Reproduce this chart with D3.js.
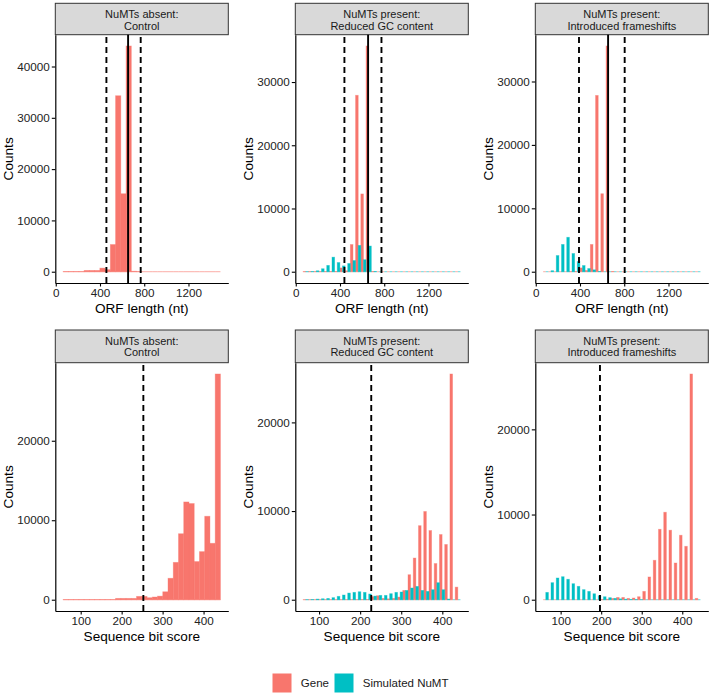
<!DOCTYPE html>
<html><head><meta charset="utf-8">
<script src="https://cdn.jsdelivr.net/npm/d3@7"></script>
<style>body{margin:0;background:#fff}svg{display:block;font-family:"Liberation Sans",Arial,Helvetica,sans-serif}</style>
</head><body><svg id="c" width="712" height="694"></svg>
<script>
// ---------------- data ----------------
const groups = ["Gene", "Simulated NuMT"];
const groupColors = ["#F8766D", "#00BFC4"];
const stripLine1 = ["NuMTs absent:", "NuMTs present:", "NuMTs present:"];
const stripLine2 = ["Control", "Reduced GC content", "Introduced frameshifts"];
const orfTitle = "ORF length (nt)";
const bitTitle = "Sequence bit score";
const yTitle = "Counts";
const orfXTicks = [0, 400, 800, 1200];
const bitXTicks = [100, 200, 300, 400];
const orfYTicks = [[0, 10000, 20000, 30000, 40000], [0, 10000, 20000, 30000], [0, 10000, 20000, 30000]];
const bitYTicks = [[0, 10000, 20000], [0, 10000, 20000], [0, 10000, 20000]];
// histogram bins (30 bins each)
const orfBinStart = [67, 67, 67];
const orfBinWidth = [47.4, 47.4, 47.4];
const bitBinStart = [57.2, 61.3, 56.9];
const bitBinWidth = [12.8, 12.76, 12.93];
// ORF length counts per bin
const orfGeneControl = [30,30,30,30,250,250,250,700,400,5300,34300,15200,44000,100,30,0,0,0,0,0,0,0,0,0,0,0,0,0,0,0];
const orfGeneGC      = [20,20,20,20,20,30,40,600,150,4300,27900,12300,35700,50,0,0,0,0,0,0,0,0,0,0,0,0,0,0,0,0];
const orfNumtGC      = [5,30,150,470,1000,2300,1450,920,1300,1770,4160,1900,4060,50,0,0,0,0,0,0,0,0,0,0,0,0,0,0,0,0];
const orfGeneFS      = [0,0,0,0,0,10,30,600,200,4300,27800,12300,35600,50,0,0,0,0,0,0,0,0,0,0,0,0,0,0,0,0];
const orfNumtFS      = [0,160,2550,4300,5430,2870,1600,970,500,300,50,0,0,0,0,0,0,0,0,0,0,0,0,0,0,0,0,0,0,0];
// Sequence bit score counts per bin
const bitGeneControl = [20,20,20,20,20,20,20,20,20,20,170,170,170,170,420,420,250,340,450,1000,2700,4700,8300,12300,12100,4800,6050,10500,7100,28400];
const bitGeneGC      = [5,5,5,5,5,5,5,5,5,10,10,20,30,350,450,150,100,150,300,1050,2820,4700,8350,9950,7800,4080,7350,6230,25460,1420];
const bitNumtGC      = [10,30,75,110,150,230,380,530,750,830,900,830,640,410,490,490,680,830,870,1050,1320,1500,1050,940,1130,1920,1130,80,0,0];
const bitGeneFS      = [0,0,0,0,0,0,0,0,0,0,0,20,60,150,270,270,160,200,350,980,2670,4630,8270,10270,8160,4310,7570,6270,26500,160];
const bitNumtFS      = [860,2000,2550,2700,2400,1880,1570,1180,980,700,470,350,240,160,100,60,40,20,10,0,0,0,0,0,0,0,0,0,0,0];
// reference lines
const orfSolid = [654, 654, 654];
const orfDashLow = [458, 440, 391];
const orfDashHigh = [768, 775, 804];
const bitDash = [253, 227, 197];

// ---------------- layout ----------------
const svg = d3.select("#c");
const colLeft = [55.3, 295.3, 535.3];
const panelW = 173;
const rows = [
  {stripTop: 3.3, plotTop: 34.7, plotBottom: 283},
  {stripTop: 330, plotTop: 362.7, plotBottom: 611}
];
const font = '"Liberation Sans", Arial, Helvetica, sans-serif';

const panels = [
  {row: 0, col: 0, series: [orfGeneControl], start: orfBinStart[0], width: orfBinWidth[0], xTicks: orfXTicks, yTicks: orfYTicks[0], xTitle: orfTitle, vlines: [[orfDashLow[0], true], [orfSolid[0], false], [orfDashHigh[0], true]]},
  {row: 0, col: 1, series: [orfGeneGC, orfNumtGC], start: orfBinStart[1], width: orfBinWidth[1], xTicks: orfXTicks, yTicks: orfYTicks[1], xTitle: orfTitle, vlines: [[orfDashLow[1], true], [orfSolid[1], false], [orfDashHigh[1], true]]},
  {row: 0, col: 2, series: [orfGeneFS, orfNumtFS], start: orfBinStart[2], width: orfBinWidth[2], xTicks: orfXTicks, yTicks: orfYTicks[2], xTitle: orfTitle, vlines: [[orfDashLow[2], true], [orfSolid[2], false], [orfDashHigh[2], true]]},
  {row: 1, col: 0, series: [bitGeneControl], start: bitBinStart[0], width: bitBinWidth[0], xTicks: bitXTicks, yTicks: bitYTicks[0], xTitle: bitTitle, vlines: [[bitDash[0], true]]},
  {row: 1, col: 1, series: [bitGeneGC, bitNumtGC], start: bitBinStart[1], width: bitBinWidth[1], xTicks: bitXTicks, yTicks: bitYTicks[1], xTitle: bitTitle, vlines: [[bitDash[1], true]]},
  {row: 1, col: 2, series: [bitGeneFS, bitNumtFS], start: bitBinStart[2], width: bitBinWidth[2], xTicks: bitXTicks, yTicks: bitYTicks[2], xTitle: bitTitle, vlines: [[bitDash[2], true]]}
];

panels.forEach(p => {
  const r = rows[p.row];
  const left = colLeft[p.col], right = left + panelW;
  const nb = p.series[0].length;
  const lo = p.start, hi = p.start + nb * p.width;
  const ex = (hi - lo) * 0.05;
  const x = d3.scaleLinear().domain([lo - ex, hi + ex]).range([left, right]);
  const ymax = d3.max(p.series.flat());
  const y = d3.scaleLinear().domain([-0.05 * ymax, 1.05 * ymax]).range([r.plotBottom, r.plotTop]);
  const g = svg.append("g");

  // strip
  g.append("rect").attr("x", left).attr("y", r.stripTop).attr("width", panelW).attr("height", r.plotTop - r.stripTop)
    .attr("fill", "#D9D9D9").attr("stroke", "#333").attr("stroke-width", 1);
  g.append("text").attr("x", left + panelW / 2).attr("y", r.stripTop + 14.6).attr("text-anchor", "middle")
    .attr("font-size", 11).attr("fill", "#1A1A1A").text(stripLine1[p.col]);
  g.append("text").attr("x", left + panelW / 2).attr("y", r.stripTop + 26.2).attr("text-anchor", "middle")
    .attr("font-size", 11).attr("fill", "#1A1A1A").text(stripLine2[p.col]);

  // bars
  const ns = p.series.length;
  const data = [];
  p.series.forEach((s, gi) => s.forEach((v, i) => {
    const b0 = p.start + i * p.width;
    data.push({g: gi, x0: b0 + gi * p.width / ns, x1: b0 + (gi + 1) * p.width / ns, v: v});
  }));
  const bars = g.append("g");
  bars.selectAll("line.base").data(data).join("line").attr("class", "base")
    .attr("x1", d => x(d.x0)).attr("x2", d => x(d.x1)).attr("y1", y(0)).attr("y2", y(0))
    .attr("stroke", d => groupColors[d.g]).attr("stroke-width", 1).attr("stroke-opacity", 0.6);
  bars.selectAll("rect").data(data.filter(d => d.v > 0)).join("rect")
    .attr("x", d => x(d.x0)).attr("width", d => x(d.x1) - x(d.x0))
    .attr("y", d => y(d.v)).attr("height", d => y(0) - y(d.v))
    .attr("fill", d => groupColors[d.g])
    .attr("stroke", d => groupColors[d.g]).attr("stroke-opacity", 0.45).attr("stroke-width", 0.8);

  // reference lines
  p.vlines.forEach(([v, dashed]) => {
    g.append("line").attr("x1", x(v)).attr("x2", x(v)).attr("y1", r.plotBottom).attr("y2", r.plotTop)
      .attr("stroke", "#000").attr("stroke-width", 1.9)
      .attr("stroke-dasharray", dashed ? "6,4" : null);
  });

  // axes
  const ax = g.append("g").attr("transform", `translate(0,${r.plotBottom})`)
    .call(d3.axisBottom(x).tickValues(p.xTicks).tickFormat(d3.format("d")).tickSizeInner(3.5).tickSizeOuter(0).tickPadding(2.5));
  const ay = g.append("g").attr("transform", `translate(${left},0)`)
    .call(d3.axisLeft(y).tickValues(p.yTicks).tickFormat(d3.format("d")).tickSizeInner(3.5).tickSizeOuter(0).tickPadding(2));
  [ax, ay].forEach(a => {
    a.select(".domain").attr("stroke", "#000").attr("stroke-width", 1.2);
    a.selectAll(".tick line").attr("stroke", "#000").attr("stroke-width", 1.1);
    a.selectAll(".tick text").attr("font-size", 11.7).attr("font-family", font).attr("fill", "#222");
  });

  // axis titles
  g.append("text").attr("x", left + panelW / 2).attr("y", r.plotBottom + 30.2).attr("text-anchor", "middle")
    .attr("font-size", 13.6).attr("fill", "#000").text(p.xTitle);
  g.append("text").attr("transform", `translate(${left - 42},${(r.plotTop + r.plotBottom) / 2}) rotate(-90)`)
    .attr("text-anchor", "middle").attr("font-size", 13.6).attr("fill", "#000").text(yTitle);
});

// legend
const legX = [272.5, 334.5];
const leg = svg.append("g");
groups.forEach((name, i) => {
  leg.append("rect").attr("x", legX[i]).attr("y", 673.5).attr("width", 19).attr("height", 19).attr("fill", groupColors[i]);
  leg.append("text").attr("x", legX[i] + 28.3).attr("y", 687).attr("font-size", 11.5).attr("fill", "#1A1A1A").text(name);
});
</script>
</body></html>
